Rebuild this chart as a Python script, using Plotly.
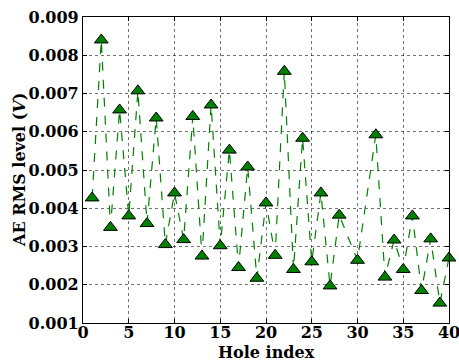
import plotly.graph_objects as go

hole_index = [1, 2, 3, 4, 5, 6, 7, 8, 9, 10, 11, 12, 13, 14, 15, 16, 17, 18, 19, 20,
              21, 22, 23, 24, 25, 26, 27, 28, 30, 32, 33, 34, 35, 36, 37, 38, 39, 40]
ae_rms = [0.00427, 0.0084, 0.0035, 0.00657, 0.0038, 0.00707, 0.0036, 0.00636, 0.00305, 0.0044,
          0.00318, 0.0064, 0.00275, 0.0067, 0.00302, 0.00552, 0.00245, 0.00508, 0.00217, 0.00414,
          0.00277, 0.00758, 0.0024, 0.00583, 0.0026, 0.0044, 0.00197, 0.00382, 0.00264, 0.00592,
          0.0022, 0.00317, 0.0024, 0.0038, 0.00185, 0.0032, 0.00152, 0.0027]

x_ticks = [0, 5, 10, 15, 20, 25, 30, 35, 40]
y_ticks = [0.001, 0.002, 0.003, 0.004, 0.005, 0.006, 0.007, 0.008, 0.009]

font_family = "DejaVu Serif"

fig = go.Figure()
fig.add_trace(go.Scatter(
    x=hole_index, y=ae_rms, mode="lines+markers",
    line=dict(color="#008000", width=1.2, dash="dash"),
    marker=dict(symbol="triangle-up", size=12, color="#008000",
                line=dict(color="black", width=1)),
    showlegend=False, cliponaxis=False, hoverinfo="skip",
))

axis_common = dict(
    showline=True, linecolor="black", linewidth=1.2, mirror="ticks",
    ticks="inside", ticklen=4, tickcolor="black",
    showgrid=True, gridcolor="rgba(0,0,0,0.55)", griddash="dot", gridwidth=1,
    zeroline=False, automargin=False, ticklabeloverflow="allow",
    tickfont=dict(family=font_family, size=16, color="black", weight="bold"),
)

fig.update_xaxes(range=[0, 40], tickvals=x_ticks, ticktext=[str(v) for v in x_ticks],
                 ticklabelstandoff=-5, **axis_common)
fig.update_yaxes(range=[0.001, 0.009], tickvals=y_ticks,
                 ticktext=[f"{v:.3f}" for v in y_ticks], **axis_common)

fig.update_layout(
    width=459, height=363,
    margin=dict(l=83, r=10, t=17, b=40),
    plot_bgcolor="white", paper_bgcolor="white",
    annotations=[
        dict(text="<b>Hole index</b>", xref="paper", yref="paper", x=0.5, y=0,
             xanchor="center", yanchor="middle", yshift=-29, showarrow=False,
             font=dict(family=font_family, size=16, color="black")),
        dict(text="<b>AE RMS level (<i>V</i>)</b>", xref="paper", yref="paper",
             x=0, y=0.5, xanchor="center", yanchor="middle", xshift=-64,
             textangle=-90, showarrow=False,
             font=dict(family=font_family, size=16, color="black")),
    ],
)

fig.write_html("out.html", config={"displayModeBar": False},
               post_script="document.body.style.margin='0';document.body.style.overflow='hidden';")
